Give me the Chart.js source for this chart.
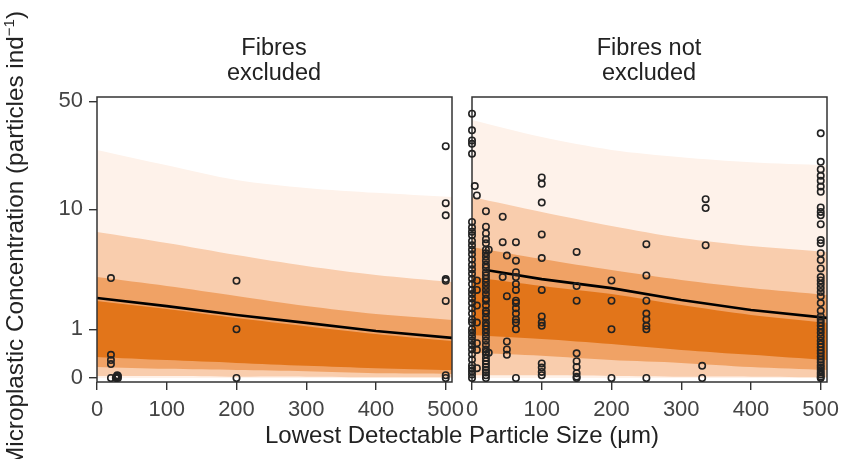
<!DOCTYPE html>
<html><head><meta charset="utf-8">
<script src="https://cdn.jsdelivr.net/npm/chart.js@4/dist/chart.umd.min.js"></script>
<style>
body{margin:0;background:#fff;width:841px;height:459px;overflow:hidden;position:relative;font-family:'Liberation Sans',Arial,sans-serif;color:#222}
canvas{position:absolute;left:0;top:0}
.t{position:absolute;text-align:center;font-size:23.5px;line-height:25px;white-space:nowrap}
sup{font-size:15px;line-height:0}
</style></head><body>
<canvas id="c1" width="841" height="459"></canvas>
<canvas id="c2" width="841" height="459"></canvas>
<div class="t" style="left:174px;width:200px;top:35px">Fibres<br>excluded</div>
<div class="t" style="left:549px;width:200px;top:35px">Fibres not<br>excluded</div>
<div class="t" style="left:212px;width:500px;top:421px;line-height:28px;font-size:24px">Lowest Detectable Particle Size (μm)</div>
<div class="t" style="left:-235px;width:500px;top:225px;line-height:28px;font-size:24.3px;transform:rotate(-90deg)">Microplastic Concentration (particles ind<sup>−1</sup>)</div>
<script>
// ---------- data ----------
const xTickValues = [0, 100, 200, 300, 400, 500];
const yTickValues = [0, 1, 10, 50];
const bandX = [0, 100, 200, 300, 400, 509];

// Fibres excluded: credible-interval bands and fitted line
const exclLightestHi = [24.6, 19.6, 15.7, 13.9, 12.9, 12.1];
const exclLightestLo = [0, 0, 0, 0, 0, 0];
const exclLightHi = [6.96, 5.81, 4.74, 3.91, 3.32, 2.91];
const exclLightLo = [0.03, 0.03, 0.02, 0.02, 0.01, 0.01];
const exclMedHi = [3.20, 2.70, 2.21, 1.78, 1.48, 1.28];
const exclMedLo = [0.17, 0.14, 0.12, 0.10, 0.07, 0.06];
const exclDarkHi = [1.99, 1.67, 1.35, 1.09, 0.87, 0.69];
const exclDarkLo = [0.35, 0.29, 0.24, 0.19, 0.15, 0.12];
const exclFitX = [0, 100, 200, 300, 400, 509];
const exclFit = [2.12, 1.78, 1.45, 1.19, 0.95, 0.77];
const exclPtsX = [20, 20, 20, 20, 20, 27, 28, 29, 30, 30, 200, 200, 200, 500, 500, 500, 500, 500, 500, 500, 500];
const exclPtsY = [3.14, 0.39, 0.29, 0.22, 0, 0, 0.02, 0.04, 0, 0.03, 2.98, 1.0, 0, 26, 11, 9.1, 3.08, 2.98, 1.99, 0.04, 0];

// Fibres not excluded
const notLightestHi = [38.1, 29.7, 24.6, 22.1, 20.5, 19.6];
const notLightestLo = [0, 0, 0, 0, 0, 0];
const notLightHi = [12.1, 9.58, 7.68, 6.31, 5.53, 5.0];
const notLightLo = [0.04, 0.04, 0.03, 0.02, 0.02, 0.01];
const notMedHi = [5.44, 4.43, 3.64, 3.03, 2.59, 2.25];
const notMedLo = [0.43, 0.37, 0.29, 0.24, 0.17, 0.12];
const notDarkHi = [3.20, 2.70, 2.30, 1.82, 1.45, 1.19];
const notDarkLo = [0.84, 0.74, 0.62, 0.49, 0.39, 0.29];
const notFitX = [20, 100, 200, 300, 400, 509];
const notFit = [3.64, 3.08, 2.59, 2.03, 1.63, 1.35];
const notColX = [0, 4, 7, 20, 24, 44, 50, 63, 100, 150, 200, 250, 330, 335, 500];
const notColY = [
  [41.8, 32.8, 28.3, 26.9, 23.2, 8.2, 7.5, 7.0, 6.6, 6.0, 5.6, 5.2, 4.8, 4.4, 4.0, 3.7, 3.4, 3.1, 2.8, 2.5, 2.3, 2.1, 1.9, 1.7, 1.5, 1.3, 1.2, 1.0, 0.9, 0.8, 0.7, 0.6, 0.5, 0.4, 0.3, 0.2, 0.15, 0.1, 0.05, 0],
  [14.3],
  [12.4, 3.0, 2.5, 1.8, 1.2, 0.64, 0.49, 0.15],
  [9.7, 7.6, 6.8, 6.2, 5.8, 5.2, 4.9, 4.6, 4.3, 4.0, 3.8, 3.5, 3.3, 3.1, 2.9, 2.7, 2.5, 2.3, 2.1, 2.0, 1.8, 1.6, 1.5, 1.35, 1.2, 1.1, 1.0, 0.9, 0.8, 0.7, 0.6, 0.5, 0.45, 0.4, 0.33, 0.27, 0.22, 0.17, 0.12, 0.08, 0.04, 0],
  [5.2, 0.43],
  [8.9, 5.9, 3.2],
  [4.7, 2.2, 0.68, 0.5, 0.39],
  [5.9, 4.3, 3.5, 3.2, 2.8, 2.5, 2.0, 1.9, 1.7, 1.5, 1.3, 1.2, 1.0, 0],
  [16.3, 14.8, 11.1, 6.7, 4.5, 2.5, 1.4, 1.2, 1.1, 0.23, 0.16, 0.09, 0.04],
  [5.0, 2.7, 2.0, 0.42, 0.27, 0.17, 0.07, 0.02, 0],
  [3.0, 2.0, 1.0, 0],
  [5.7, 3.3, 2.0, 1.5, 1.3, 1.1, 1.0, 0],
  [0.19, 0],
  [11.7, 10.2, 5.6],
  [31.4, 20.6, 18.4, 16.7, 15.5, 14.2, 13.1, 10.3, 9.6, 9.1, 7.9, 6.1, 5.8, 4.9, 4.35, 3.75, 3.2, 3.0, 2.8, 2.6, 2.4, 2.2, 1.9, 1.6, 1.4, 1.3, 1.2, 1.1, 1.0, 0.9, 0.8, 0.7, 0.62, 0.55, 0.48, 0.42, 0.36, 0.3, 0.25, 0.2, 0.16, 0.12, 0.08, 0.05, 0.02, 0]
];

// ---------- scale: log10(1 + y) ----------
class Log1pScale extends Chart.LinearScale {
  static id = 'log1p';
  static defaults = {};
  buildTicks() { this.start = this.min; this.end = this.max; return yTickValues.map(v => ({value: v})); }
  getPixelForValue(v) {
    if (v === null || v === undefined || isNaN(v)) return NaN;
    const a = Math.log10(1 + this.min), b = Math.log10(1 + this.max);
    return this.getPixelForDecimal((Math.log10(1 + v) - a) / (b - a));
  }
  getValueForPixel(p) {
    const a = Math.log10(1 + this.min), b = Math.log10(1 + this.max);
    return Math.pow(10, a + this.getDecimalForPixel(p) * (b - a)) - 1;
  }
}
Chart.register(Log1pScale);
Chart.defaults.font.family = "'Liberation Sans', Arial, sans-serif";

const boxPlugin = {
  id: 'box',
  afterDatasetDraw(chart, args) {
    if (!chart.data.datasets[args.index].boxAfter) return;
    const {ctx, chartArea: a} = chart;
    ctx.save(); ctx.strokeStyle = '#333'; ctx.lineWidth = 1.5;
    ctx.strokeRect(a.left, a.top, a.right - a.left, a.bottom - a.top);
    ctx.restore();
  }
};

const COLORS = {lightest: '#fef2ea', light: '#f9cdad', med: '#f0a265', dark: '#e2751a'};
const pts = (xs, ys) => xs.map((x, i) => ({x: x, y: ys[i]}));

function bandSets(hi, lo, color, order) {
  return [
    {type: 'line', data: pts(bandX, hi), backgroundColor: color, borderWidth: 0, borderColor: 'rgba(0,0,0,0)', pointRadius: 0, fill: '+1', order: order, tension: 0.3},
    {type: 'line', data: pts(bandX, lo), borderWidth: 0, borderColor: 'rgba(0,0,0,0)', pointRadius: 0, fill: false, order: order, tension: 0.3}
  ];
}

function makeChart(id, b, fitX, fit, scatter, showY, pad) {
  const datasets = [].concat(
    bandSets(b[0], b[1], COLORS.lightest, 5),
    bandSets(b[2], b[3], COLORS.light, 4),
    bandSets(b[4], b[5], COLORS.med, 3),
    bandSets(b[6], b[7], COLORS.dark, 2),
    [{type: 'line', data: pts(fitX, fit), borderColor: '#000', borderWidth: 2.6, pointRadius: 0, fill: false, order: 1, boxAfter: true},
     {type: 'scatter', data: scatter, pointRadius: 3.2, borderWidth: 1.6, borderColor: '#222', backgroundColor: 'rgba(0,0,0,0)', order: 0, clip: false}]
  );
  const tickGrid = {drawOnChartArea: false, drawTicks: true, tickLength: 8, color: '#333', lineWidth: 1.4};
  return new Chart(document.getElementById(id), {
    type: 'scatter',
    data: {datasets: datasets},
    options: {
      responsive: false, animation: false, events: [],
      layout: {padding: pad},
      plugins: {legend: {display: false}, tooltip: {enabled: false}},
      scales: {
        x: {type: 'linear', min: 0, max: 509,
            afterBuildTicks: s => { s.ticks = xTickValues.map(v => ({value: v})); },
            afterFit: s => { s.height = 77; s.paddingLeft = 0; s.paddingRight = 0; },
            border: {display: false}, grid: tickGrid,
            ticks: {font: {size: 22}, color: '#444', padding: 7, maxRotation: 0, autoSkip: false, callback: v => String(v)}},
        y: {type: 'log1p', min: -0.055, max: 53.3, display: showY,
            afterFit: s => { s.width = showY ? 97 : 0; s.paddingTop = 0; s.paddingBottom = 0; },
            border: {display: false}, grid: tickGrid,
            ticks: {font: {size: 22}, color: '#444', padding: 6, autoSkip: false, callback: v => String(v)}}
      }
    },
    plugins: [boxPlugin]
  });
}

const exclScatter = pts(exclPtsX, exclPtsY);
const notScatter = [];
notColX.forEach((x, i) => notColY[i].forEach(y => notScatter.push({x: x, y: y})));

makeChart('c1', [exclLightestHi, exclLightestLo, exclLightHi, exclLightLo, exclMedHi, exclMedLo, exclDarkHi, exclDarkLo],
  exclFitX, exclFit, exclScatter, true, {left: 0, right: 389, top: 97, bottom: 0});
makeChart('c2', [notLightestHi, notLightestLo, notLightHi, notLightLo, notMedHi, notMedLo, notDarkHi, notDarkLo],
  notFitX, notFit, notScatter, false, {left: 472, right: 14, top: 97, bottom: 0});
</script>
</body></html>
